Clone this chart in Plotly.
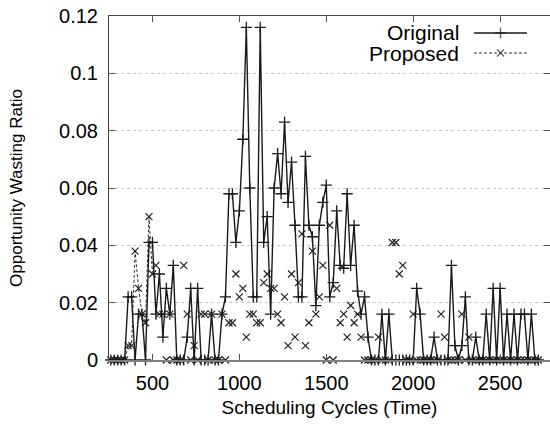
import plotly.graph_objects as go

# ---------------- data ----------------
cycles = [260, 280, 300, 320, 340, 360, 380, 400, 420, 440, 460, 480, 500, 520, 540, 560,
          580, 600, 620, 640, 660, 680, 700, 720, 740, 760, 780, 800, 820, 840, 860, 880,
          900, 920, 940, 960, 980, 1000, 1020, 1040, 1060, 1080, 1100, 1120, 1140, 1160,
          1180, 1200, 1220, 1240, 1260, 1280, 1300, 1320, 1340, 1360, 1380, 1400, 1420,
          1440, 1460, 1480, 1500, 1520, 1540, 1560, 1580, 1600, 1620, 1640, 1660, 1680,
          1700, 1720, 1740, 1760, 1780, 1800, 1820, 1840, 1860, 1880, 1900, 1920, 1940,
          1960, 1980, 2000, 2020, 2040, 2060, 2080, 2100, 2120, 2140, 2160, 2180, 2200,
          2220, 2240, 2260, 2280, 2300, 2320, 2340, 2360, 2380, 2400, 2420, 2440, 2460,
          2480, 2500, 2520, 2540, 2560, 2580, 2600, 2620, 2640, 2660, 2680, 2700, 2720]

original = [0, 0, 0, 0, 0, 0.022, 0.022, 0, 0.016, 0.016, 0, 0.041, 0.041, 0.016, 0.030, 0.008,
            0.025, 0.016, 0.033, 0, 0, 0, 0.008, 0.025, 0, 0.025, 0, 0, 0, 0.016, 0, 0,
            0.016, 0.022, 0.058, 0.058, 0.041, 0.052, 0.077, 0.116, 0.060, 0.022, 0.022, 0.116, 0.041, 0.050,
            0.016, 0.060, 0.072, 0.058, 0.083, 0.055, 0.069, 0.047, 0.022, 0.022, 0.071, 0.047, 0.043,
            0.019, 0.047, 0.055, 0.061, 0.022, 0.027, 0.052, 0.033, 0.032, 0.058, 0.033, 0.047, 0.024,
            0.016, 0.022, 0.008, 0, 0, 0, 0.016, 0, 0.016, 0, 0, 0, 0,
            0, 0, 0, 0.025, 0.016, 0, 0, 0, 0.008, 0, 0, 0, 0,
            0.033, 0.005, 0, 0.005, 0.022, 0, 0, 0.008, 0, 0, 0.016, 0, 0.025,
            0, 0.025, 0, 0.016, 0, 0.016, 0, 0.016, 0.016, 0, 0.016, 0, 0]

proposed = [0, 0, 0, 0, 0, 0.005, 0.005, 0.038, 0.025, 0.016, 0.013, 0.050, 0.030, 0.033, 0.016, 0.016,
            0, 0.016, 0, 0, 0, 0.033, 0.016, 0, 0.005, 0, 0.016, 0.016, 0, 0.016, 0, 0,
            0.016, 0, 0.013, 0.013, 0.030, 0.022, 0.025, 0.008, 0.016, 0.016, 0.013, 0.013, 0.027, 0.030,
            0.025, 0.025, 0.016, 0.013, 0.022, 0.005, 0.030, 0.008, 0.027, 0.044, 0.005, 0.013, 0.038,
            0.016, 0.022, 0.033, 0, 0.047, 0, 0.025, 0.013, 0.016, 0.008, 0.019, 0.013, 0.016,
            0.008, 0, 0, 0, 0, 0.008, 0, 0, 0, 0.041, 0.041, 0.030, 0.033,
            0, 0, 0.016, 0, 0, 0, 0, 0, 0, 0, 0.016, 0.008, 0,
            0, 0, 0, 0.016, 0, 0.008, 0, 0, 0, 0, 0, 0, 0,
            0, 0, 0, 0, 0, 0, 0, 0, 0, 0, 0, 0, 0]

dashed_count = 13  # Proposed points joined by the dashed line (first part only)

x_ticks = [500, 1000, 1500, 2000, 2500]
y_ticks = [0, 0.02, 0.04, 0.06, 0.08, 0.1, 0.12]
y_tick_labels = ["0", "0.02", "0.04", "0.06", "0.08", "0.1", "0.12"]
series_names = ["Original", "Proposed"]

# ---------------- style ----------------
FONT = "Liberation Sans, Arial, Helvetica, sans-serif"
X_RANGE = [250, 2787]
Y_RANGE = [0, 0.12]
INK = "#1a1a1a"

fig = go.Figure()

fig.add_trace(go.Scatter(
    x=cycles[:dashed_count], y=proposed[:dashed_count], mode="lines",
    line=dict(color="#333333", width=1, dash="3px,2px"),
    showlegend=False, cliponaxis=False, hoverinfo="skip"))

fig.add_trace(go.Scatter(
    x=cycles, y=proposed, mode="markers", name=series_names[1],
    marker=dict(symbol="x-thin", size=7, line=dict(color="#222222", width=1.2)),
    showlegend=False, cliponaxis=False))

fig.add_trace(go.Scatter(
    x=cycles, y=original, mode="lines+markers", name=series_names[0],
    line=dict(color=INK, width=1.4),
    marker=dict(symbol="cross-thin", size=8, color=INK, line=dict(color=INK, width=1.3)),
    showlegend=False, cliponaxis=False))

# dummy trace to anchor mirrored-tick axes
fig.add_trace(go.Scatter(x=[None], y=[None], xaxis="x2", yaxis="y2",
                         showlegend=False, hoverinfo="skip"))

# ---------------- manual legend (text on the left, sample on the right) ----------------
leg_text_x = 0.798
leg_rows_y = [0.9506, 0.8924]
leg_line_x = [0.8277, 0.8878, 0.9478]

fig.add_trace(go.Scatter(
    x=leg_line_x, y=[leg_rows_y[0]] * 3, xaxis="x3", yaxis="y3", mode="lines+markers",
    line=dict(color=INK, width=1.4),
    marker=dict(symbol="cross-thin", size=[0, 8, 0], color=INK, line=dict(color=INK, width=1.3)),
    showlegend=False, cliponaxis=False, hoverinfo="skip"))
fig.add_trace(go.Scatter(
    x=leg_line_x, y=[leg_rows_y[1]] * 3, xaxis="x3", yaxis="y3", mode="lines+markers",
    line=dict(color="#333333", width=1, dash="3px,2px"),
    marker=dict(symbol="x-thin", size=[0, 7, 0], line=dict(color="#222222", width=1.2)),
    showlegend=False, cliponaxis=False, hoverinfo="skip"))

for name, yy in zip(series_names, leg_rows_y):
    fig.add_annotation(x=leg_text_x, y=yy, xref="paper", yref="paper", text=name,
                       showarrow=False, xanchor="right", yanchor="middle",
                       font=dict(family=FONT, size=21, color="black"))

fig.update_layout(
    width=550, height=424,
    margin=dict(l=109, r=0, t=16, b=64),
    paper_bgcolor="white", plot_bgcolor="white",
    font=dict(family=FONT, color="black"),
    showlegend=False,
    xaxis=dict(
        range=X_RANGE, tickvals=x_ticks, ticks="inside", ticklen=6, tickcolor="#555",
        showline=True, linecolor="#808080", linewidth=2, showgrid=False, zeroline=False,
        tickfont=dict(family=FONT, size=20, color="black"),
        title=dict(text="Scheduling Cycles (Time)", font=dict(family=FONT, size=19, color="black"),
                   standoff=8),
        ticklabelstandoff=4,
    ),
    yaxis=dict(
        range=Y_RANGE, tickvals=y_ticks, ticktext=y_tick_labels, ticks="inside", ticklen=6,
        tickcolor="#555", showline=True, linecolor="#444", linewidth=1,
        showgrid=True, gridcolor="#c8c8c8", griddash="dot", gridwidth=1, zeroline=False,
        tickfont=dict(family=FONT, size=20, color="black"),
        title=dict(text="Opportunity Wasting Ratio", font=dict(family=FONT, size=17, color="black"),
                   standoff=32),
        ticklabelstandoff=6,
    ),
    xaxis2=dict(overlaying="x", side="top", range=X_RANGE, tickvals=x_ticks, ticks="inside",
                ticklen=6, tickcolor="#555", showticklabels=False, showline=True,
                linecolor="#444", linewidth=1, showgrid=False, zeroline=False),
    yaxis2=dict(overlaying="y", side="right", range=Y_RANGE, tickvals=y_ticks, ticks="inside",
                ticklen=6, tickcolor="#555", showticklabels=False, showline=False,
                showgrid=False, zeroline=False),
    xaxis3=dict(overlaying="x", range=[0, 1], visible=False),
    yaxis3=dict(overlaying="y", range=[0, 1], visible=False),
)

fig.write_html("out.html", config={"displayModeBar": False},
               post_script="document.body.style.margin='0px';document.body.style.overflow='hidden';")
